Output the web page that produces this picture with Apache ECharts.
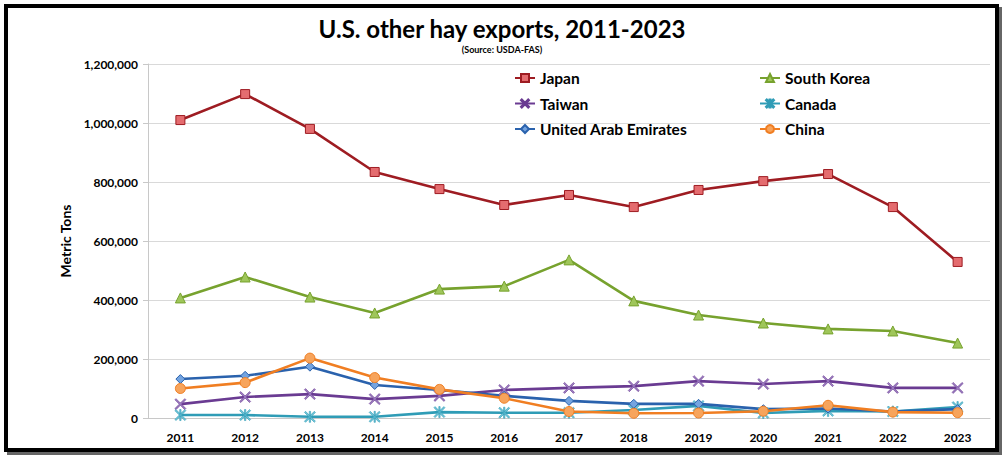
<!DOCTYPE html>
<html>
<head>
<meta charset="utf-8">
<script src="https://cdn.jsdelivr.net/npm/echarts@6/dist/echarts.min.js"></script>
<style>
  html, body { margin: 0; padding: 0; background: #fff; }
  #chart { position: absolute; left: 0; top: 0; width: 1004px; height: 458px; }
  #frame {
    position: absolute; left: 4px; top: 4px; width: 987px; height: 440px;
    border: 4px solid #000; box-shadow: 3px 3px 0 #666; pointer-events: none;
  }
</style>
</head>
<body>
<div id="chart"></div>
<div id="frame"></div>
<script>
var years = ['2011', '2012', '2013', '2014', '2015', '2016', '2017', '2018', '2019', '2020', '2021', '2022', '2023'];
var japan = [1010000, 1098000, 980000, 834000, 776000, 722000, 756000, 715000, 773000, 803000, 827000, 715000, 529000];
var southKorea = [407000, 478000, 410000, 356000, 437000, 447000, 536000, 397000, 349000, 322000, 302000, 295000, 254000];
var taiwan = [47000, 71000, 81000, 64000, 75000, 95000, 102000, 108000, 125000, 115000, 125000, 102000, 102000];
var canada = [10000, 10000, 4000, 4000, 20000, 18000, 18000, 27000, 41000, 17000, 24000, 22000, 37000];
var uae = [132000, 143000, 174000, 112000, 95000, 75000, 58000, 48000, 48000, 30000, 32000, 22000, 30000];
var china = [100000, 120000, 203000, 137000, 97000, 67000, 22000, 16000, 17000, 23000, 43000, 20000, 18000];
var yTicks = { min: 0, max: 1200000, step: 200000 };

(function() {
  var font = 'Lato, "Open Sans", sans-serif';
  var xMark = 'path://M0,1L1,0L5,4L9,0L10,1L6,5L10,9L9,10L5,6L1,10L0,9L4,5Z';
  var starMark = 'path://M0,1L1,0L5,4L9,0L10,1L6,5L10,9L9,10L5,6L1,10L0,9L4,5Z M4.4,0L5.6,0L5.6,10L4.4,10Z';

  function line(name, data, color, markFill, symbol, size) {
    return {
      name: name,
      type: 'line',
      data: data,
      symbol: symbol,
      symbolSize: size,
      lineStyle: { color: color, width: 2.6 },
      itemStyle: { color: markFill, borderColor: color, borderWidth: symbol.indexOf('path') === 0 ? 0.6 : 1 }
    };
  }

  var legendText = { fontFamily: font, fontWeight: 'bold', fontSize: 15.5, color: '#000' };

  var chart = echarts.init(document.getElementById('chart'), null, { renderer: 'svg' });
  chart.setOption({
    animation: false,
    backgroundColor: '#fff',
    title: {
      text: 'U.S. other hay exports, 2011-2023',
      subtext: '(Source: USDA-FAS)',
      left: 'center',
      top: 11,
      itemGap: 5,
      textStyle: { fontFamily: font, fontWeight: 'bold', fontSize: 24, color: '#000' },
      subtextStyle: { fontFamily: font, fontWeight: 'bold', fontSize: 9, color: '#000' }
    },
    legend: [{
      data: ['Japan', 'Taiwan', 'United Arab Emirates'],
      orient: 'vertical',
      left: 514,
      top: 70,
      padding: 0,
      itemWidth: 20,
      itemHeight: 10,
      itemGap: 9.5,
      textStyle: legendText
    }, {
      data: ['South Korea', 'Canada', 'China'],
      orient: 'vertical',
      left: 759,
      top: 70,
      padding: 0,
      itemWidth: 20,
      itemHeight: 10,
      itemGap: 9.5,
      textStyle: legendText
    }],
    grid: { left: 148, right: 14, top: 64, bottom: 40 },
    xAxis: {
      type: 'category',
      data: years,
      boundaryGap: true,
      axisLine: { lineStyle: { color: '#c8c8c8' } },
      axisTick: { show: false },
      axisLabel: { fontFamily: font, fontWeight: 'bold', fontSize: 12, color: '#000', margin: 13 }
    },
    yAxis: {
      type: 'value',
      min: yTicks.min,
      max: yTicks.max,
      interval: yTicks.step,
      name: 'Metric Tons',
      nameLocation: 'middle',
      nameGap: 67,
      nameTextStyle: { fontFamily: font, fontWeight: 'bold', fontSize: 14, color: '#000' },
      axisLine: { show: true, lineStyle: { color: '#c8c8c8' } },
      axisTick: { show: true, length: 5, lineStyle: { color: '#c8c8c8' } },
      splitLine: { lineStyle: { color: '#d9d9d9' } },
      axisLabel: {
        fontFamily: font, fontWeight: 'bold', fontSize: 12, color: '#000', margin: 10,
        formatter: function(v) { return v.toLocaleString('en-US'); }
      }
    },
    series: [
      line('Japan', japan, '#9e1c22', '#e46c6f', 'rect', 9),
      line('South Korea', southKorea, '#77a22e', '#9fc65a', 'triangle', 10),
      line('Taiwan', taiwan, '#6a3b92', '#9b7cc0', xMark, 11),
      line('Canada', canada, '#2f9cb6', '#70c4d8', starMark, 11),
      line('United Arab Emirates', uae, '#2a62ad', '#74a4e0', 'diamond', 9),
      line('China', china, '#f07e22', '#f7a45c', 'circle', 10)
    ]
  });
  window.addEventListener('resize', function() { chart.resize(); });
})();
</script>
</body>
</html>
